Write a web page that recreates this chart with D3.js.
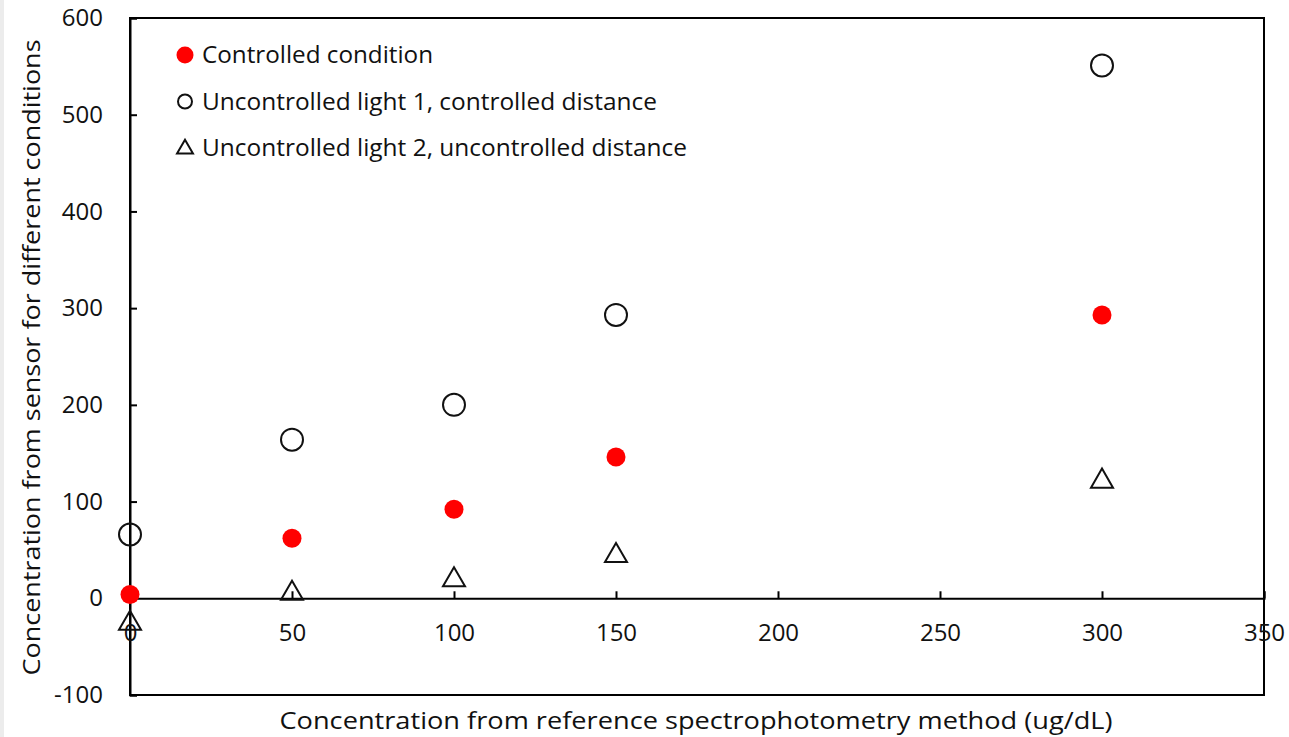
<!DOCTYPE html>
<html>
<head>
<meta charset="utf-8">
<script src="https://cdn.jsdelivr.net/npm/d3@7"></script>
<style>
  body { margin: 0; background: #fff; }
  #chart { width: 1289px; height: 737px; border-left: 4px solid #ececec; box-sizing: border-box; }
  text { font-family: "Open Sans", sans-serif; fill: #111; }
</style>
</head>
<body>
<div id="chart"></div>
<script>
const xValues = [0, 50, 100, 150, 300];
const controlled = [4, 62, 92, 146, 293];
const uncontrolled1 = [66, 164, 200, 293, 551];
const uncontrolled2 = [-25, 6, 20, 45, 122];
const xTicks = [0, 50, 100, 150, 200, 250, 300, 350];
const yTicks = [-100, 0, 100, 200, 300, 400, 500, 600];
const seriesNames = ["Controlled condition", "Uncontrolled light 1, controlled distance", "Uncontrolled light 2, uncontrolled distance"];
const legendWidths = [231, 455, 485];

const margin = {top: 18, right: 25, bottom: 42, left: 126};
const width = 1285 - margin.left - margin.right;
const height = 737 - margin.top - margin.bottom;

const svg = d3.select("#chart")
    .append("svg")
    .attr("width", 1285)
    .attr("height", 737)
  .append("g")
    .attr("transform", `translate(${margin.left},${margin.top})`);

const x = d3.scaleLinear().domain([0, 350]).range([0, width]);
const y = d3.scaleLinear().domain([-100, 600]).range([height, 0]);

// plot frame
svg.append("rect")
    .attr("width", width).attr("height", height)
    .attr("fill", "none").attr("stroke", "#000").attr("stroke-width", 2);

// y axis (ticks inward)
const yAxis = svg.append("g")
    .call(d3.axisLeft(y).tickValues(yTicks).tickFormat(d => String(d)).tickSize(-7).tickPadding(27));
yAxis.select(".domain").attr("stroke-width", 2);
yAxis.selectAll(".tick line").attr("stroke-width", 2);
yAxis.selectAll("text").style("font-size", "24px").attr("fill", "#111").style("font-family", "'Open Sans', sans-serif");

// x axis along zero line (ticks inward/up)
const xAxis = svg.append("g")
    .attr("transform", `translate(0,${y(0)})`)
    .call(d3.axisBottom(x).tickValues(xTicks).tickFormat(d => String(d)).tickSize(-7).tickPadding(26));
xAxis.select(".domain").attr("stroke-width", 2);
xAxis.selectAll(".tick line").attr("stroke-width", 2);
xAxis.selectAll("text").style("font-size", "24px").attr("fill", "#111").style("font-family", "'Open Sans', sans-serif");

// axis titles
svg.append("text")
    .attr("x", width / 2 - 1).attr("y", height + 34)
    .attr("text-anchor", "middle")
    .attr("textLength", 833).attr("lengthAdjust", "spacingAndGlyphs")
    .style("font-size", "24px")
    .text("Concentration from reference spectrophotometry method (ug/dL)");

svg.append("text")
    .attr("transform", `translate(${-90},${height / 2 + 1}) rotate(-90)`)
    .attr("text-anchor", "middle")
    .attr("textLength", 636).attr("lengthAdjust", "spacingAndGlyphs")
    .style("font-size", "24px")
    .text("Concentration from sensor for different conditions");

const tri = d3.symbol().type(d3.symbolTriangle);

// series 2: triangles
svg.selectAll(".tri")
    .data(xValues.map((d, i) => [d, uncontrolled2[i]]))
    .enter().append("path")
    .attr("d", tri.size(210)())
    .attr("transform", d => `translate(${x(d[0])},${y(d[1]) + 1})`)
    .attr("fill", "none").attr("stroke", "#111").attr("stroke-width", 2);

// series 1: open circles
svg.selectAll(".open")
    .data(xValues.map((d, i) => [d, uncontrolled1[i]]))
    .enter().append("circle")
    .attr("cx", d => x(d[0])).attr("cy", d => y(d[1]))
    .attr("r", 11)
    .attr("fill", "none").attr("stroke", "#111").attr("stroke-width", 2);

// series 0: red dots
svg.selectAll(".red")
    .data(xValues.map((d, i) => [d, controlled[i]]))
    .enter().append("circle")
    .attr("cx", d => x(d[0])).attr("cy", d => y(d[1]))
    .attr("r", 9.5)
    .attr("fill", "#ff0000");

// legend
const legend = svg.append("g").attr("transform", "translate(55,37)");
const rowH = 46.5;
seriesNames.forEach((name, i) => {
  const g = legend.append("g").attr("transform", `translate(0,${i * rowH})`);
  if (i === 0) {
    g.append("circle").attr("r", 8.5).attr("fill", "#ff0000");
  } else if (i === 1) {
    g.append("circle").attr("r", 7).attr("fill", "none").attr("stroke", "#111").attr("stroke-width", 2);
  } else {
    g.append("path").attr("d", tri.size(110)()).attr("transform", "translate(0,1)")
      .attr("fill", "none").attr("stroke", "#111").attr("stroke-width", 2);
  }
  g.append("text")
    .attr("x", 17).attr("dy", "0.35em")
    .attr("textLength", legendWidths[i]).attr("lengthAdjust", "spacingAndGlyphs")
    .style("font-size", "23px")
    .text(name);
});
</script>
</body>
</html>
